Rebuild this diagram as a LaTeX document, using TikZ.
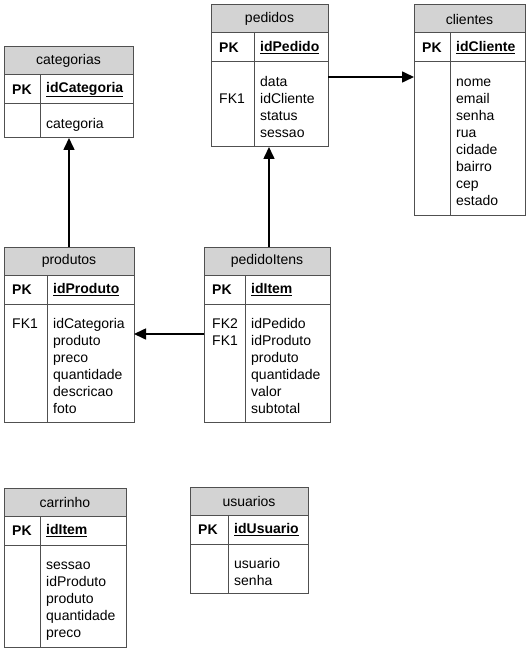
\documentclass[tikz,border=0pt]{standalone}
\usepackage{fontspec}
\setmainfont{Liberation Sans}
\usetikzlibrary{arrows.meta, positioning}
\definecolor{tabgray}{RGB}{211,211,211}
\definecolor{tabedge}{RGB}{80,80,80}

% table: name, top left, width, key column width, body height, title, pk, keys, fields
\newcommand{\erdtable}[9]{%
  \node[tabhead, minimum width=#3pt, anchor=north west] (#1) at (#2) {#6};
  \node[tabkey, minimum width=#3pt, below=0pt of #1] (#1-pk) {};
  \node[tabbody, minimum width=#3pt, minimum height=#5pt, below=0pt of #1-pk] (#1-body) {};
  \draw[tabrule] ([xshift=#4pt]#1-pk.north west) -- ([xshift=#4pt]#1-body.south west);
  \node[tabtext, anchor=west] (#1-pkl) at ([xshift=8pt]#1-pk.west) {\textbf{PK}};
  \node[tabtext, anchor=west] (#1-pkf) at ([xshift=#4pt+6pt]#1-pk.west) {\underline{\textbf{#7}}};
  \node[tabtext, anchor=north west] (#1-keys) at ([xshift=8pt,yshift=-12pt]#1-body.north west) {\strut#8};
  \node[tabtext, anchor=north west] (#1-fields) at ([xshift=#4pt+6pt,yshift=-12pt]#1-body.north west) {\strut#9};
}

\begin{document}
\begin{tikzpicture}[x=1pt, y=-1pt,
  tabfont/.style={font=\fontsize{14}{17}\selectfont},
  tabhead/.style={draw=tabedge, line width=1pt, fill=tabgray, minimum height=28pt,
                  inner sep=0pt, outer sep=0pt, tabfont},
  tabkey/.style={draw=tabedge, line width=1pt, minimum height=29pt, inner sep=0pt, outer sep=0pt},
  tabbody/.style={draw=tabedge, line width=1pt, inner sep=0pt, outer sep=0pt},
  tabrule/.style={draw=tabedge, line width=1pt},
  tabtext/.style={inner sep=0pt, align=left, tabfont},
  fkarrow/.style={-{Triangle[length=12pt, width=11pt]}, line width=1.6pt, black}
]
\useasboundingbox (0,0) rectangle (528,655);

\erdtable{categorias}{4,47}{129}{36}{34}{categorias}{idCategoria}{}{categoria}
\erdtable{pedidos}{211,5}{117}{43}{85}{pedidos}{idPedido}{\\FK1}{data\\idCliente\\status\\sessao}
\erdtable{clientes}{414,5}{111}{36}{153}{clientes}{idCliente}{}{nome\\email\\senha\\rua\\cidade\\bairro\\cep\\estado}
\erdtable{produtos}{4,247}{130}{43}{118}{produtos}{idProduto}{FK1}{idCategoria\\produto\\preco\\quantidade\\descricao\\foto}
\erdtable{pedidoItens}{204,247}{126}{41}{118}{pedidoItens}{idItem}{FK2\\FK1}{idPedido\\idProduto\\produto\\quantidade\\valor\\subtotal}
\erdtable{carrinho}{4,488}{122}{36}{102}{carrinho}{idItem}{}{sessao\\idProduto\\produto\\quantidade\\preco}
\erdtable{usuarios}{190,487}{118}{38}{49}{usuarios}{idUsuario}{}{usuario\\senha}

% foreign keys
\coordinate (ordlink) at ([yshift=-15pt]pedidos-body.north east);
\coordinate (itemlink) at ([yshift=-30pt]pedidoItens-body.north west);
\draw[fkarrow] (produtos.north) -- (produtos.north |- categorias-body.south);
\draw[fkarrow] ([xshift=2pt]pedidoItens.north) -- ([xshift=2pt]pedidoItens.north |- pedidos-body.south);
\draw[fkarrow] (ordlink) -- (ordlink -| clientes-body.west);
\draw[fkarrow] (itemlink) -- (itemlink -| produtos-body.east);
\end{tikzpicture}
\end{document}
